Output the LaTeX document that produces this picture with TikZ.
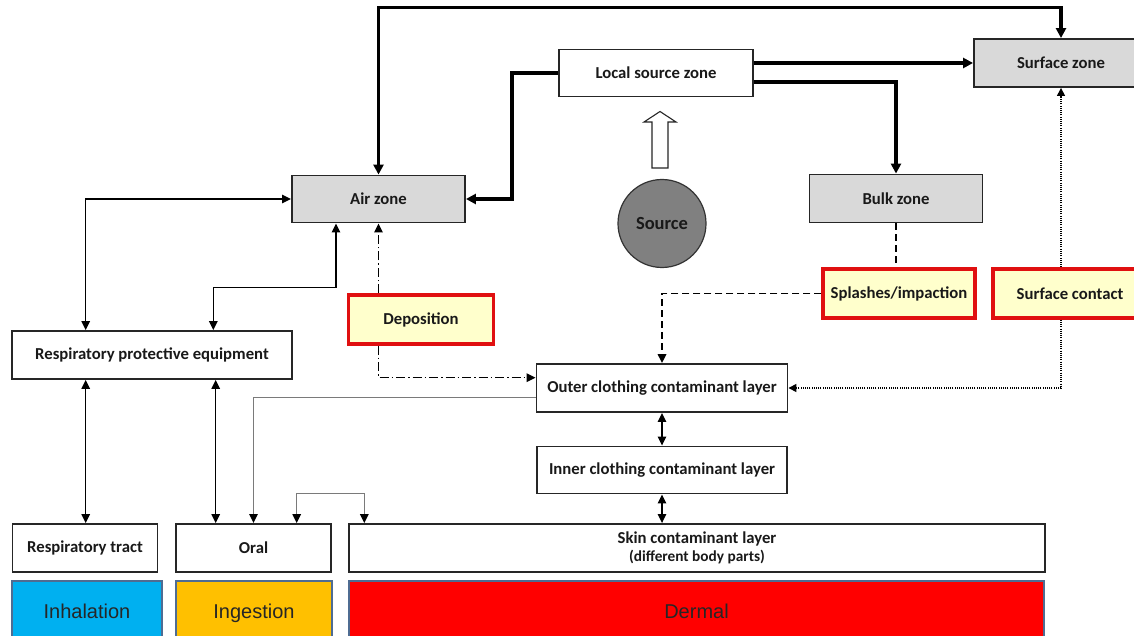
\documentclass[tikz,border=0pt]{standalone}
\usepackage{fontspec}
\setmainfont{Carlito}
\newfontfamily\arialfont{Liberation Sans}
\usetikzlibrary{arrows.meta,calc}
\definecolor{zonegray}{HTML}{D9D9D9}
\definecolor{procyellow}{HTML}{FFFFCC}
\definecolor{procred}{HTML}{E01010}
\definecolor{bandedge}{HTML}{4F6C92}
\definecolor{inhblue}{HTML}{00B0F0}
\definecolor{ingorange}{HTML}{FFC000}
\definecolor{dermred}{HTML}{FF0000}
\definecolor{srcgray}{HTML}{808080}
\definecolor{linkgray}{HTML}{7A7A7A}
\tikzset{
  lbl/.style={font=\bfseries\fontsize{16.7}{19}\selectfont, text=black!90, inner sep=0pt},
  box/.style={lbl, draw=black!85, line width=1.9pt, fill=white, rectangle},
  zone/.style={box, fill=zonegray},
  proc/.style={lbl, draw=procred, line width=3.4pt, fill=procyellow, rectangle},
  band/.style={draw=bandedge, line width=2.6pt, rectangle, inner sep=0pt,
    text height=15pt, text depth=4.5pt,
    font=\arialfont\fontsize{20}{24}\selectfont, text=black!85},
  bigarrow/.style={line width=3.2pt, -{Triangle[length=10pt,width=10pt]}},
  thinboth/.style={line width=1.4pt, {Triangle[length=9pt,width=8.5pt]}-{Triangle[length=9pt,width=8.5pt]}},
  grayto/.style={draw=linkgray, line width=1.4pt, -{Triangle[length=9pt,width=8.5pt,black]}},
  grayboth/.style={draw=linkgray, line width=1.4pt, {Triangle[length=9pt,width=8.5pt,black]}-{Triangle[length=9pt,width=8.5pt,black]}},
  dashto/.style={line width=1.7pt, dash pattern=on 7pt off 4pt, -{Triangle[length=9pt,width=8.5pt]}},
  dashplain/.style={line width=1.7pt, dash pattern=on 7pt off 4pt},
  dotto/.style={line width=1.5pt, dash pattern=on 1pt off 1.2pt, -{Triangle[length=8pt,width=8pt]}},
  dashdotto/.style={line width=1.5pt, dash pattern=on 9pt off 3pt on 1.5pt off 3pt, -{Triangle[length=9pt,width=8.5pt]}},
}
\begin{document}
\begin{tikzpicture}[x=1pt,y=-1pt]
\useasboundingbox (0,0) rectangle (1134,636);
\fill[white] (0,0) rectangle (1134,636);

% nodes
\node[zone, minimum width=173pt, minimum height=47pt] (air) at (378.5,199) {Air zone};
\node[box, minimum width=194pt, minimum height=47pt] (lsz) at (656,73) {Local source zone};
\node[zone, minimum width=166pt, minimum height=48pt] (surf) at (1057,63) {\hspace*{8pt}Surface zone};
\node[zone, minimum width=173pt, minimum height=48pt] (bulk) at (896,198.5) {Bulk zone};
\node[circle, draw=black!80, line width=1.2pt, fill=srcgray, minimum size=88pt, inner sep=0pt,
  font=\bfseries\fontsize{18.5}{21}\selectfont, text=black!90] (src) at (662,223.5) {Source};
\node[proc, minimum width=152pt, minimum height=49pt] (splash) at (899,293.5) {Splashes/impaction};
\node[proc, minimum width=147pt, minimum height=49pt] (contact) at (1066.5,293.5) {\hspace*{7pt}Surface contact};
\node[proc, minimum width=145pt, minimum height=49pt] (depo) at (421,319.5) {Deposition};
\node[box, minimum width=280pt, minimum height=48pt] (rpe) at (152,355) {Respiratory protective equipment};
\node[box, minimum width=251pt, minimum height=48pt] (outer) at (662,388) {Outer clothing contaminant layer};
\node[box, minimum width=250pt, minimum height=47pt] (inner) at (662,470) {Inner clothing contaminant layer};
\node[box, minimum width=145pt, minimum height=48pt] (resp) at (85,548) {Respiratory tract};
\node[box, minimum width=155pt, minimum height=48pt] (oral) at (253.5,548) {Oral};
\node[box, minimum width=696pt, minimum height=48pt, align=center] (skin) at (697,548)
  {Skin contaminant layer\\[-1pt]{\fontsize{15.3}{17}\selectfont (different body parts)}};
\node[band, fill=inhblue, minimum width=150pt, minimum height=64pt] (inh) at (87,613) {Inhalation};
\node[band, fill=ingorange, minimum width=156pt, minimum height=64pt] (ing) at (254,613) {Ingestion};
\node[band, fill=dermred, minimum width=695pt, minimum height=64pt] (derm) at (696.5,613) {Dermal};

% hollow arrow from source
\draw[fill=white, line width=1.1pt, draw=black!85] (652,168) -- (652,122) -- (644,122) -- (660,111.5)
  -- (676,122) -- (668,122) -- (668,168) -- cycle;

% helper coordinates
\coordinate (t1) at (1061,7.5);
\coordinate (cx1) at (85.7,0);
\coordinate (cx2) at (213.3,0);
\coordinate (cx3) at (215.7,0);
\coordinate (k1) at (336,287.3);
\coordinate (k2) at (296.7,493.3);
\coordinate (k3) at (364.3,493.3);
\coordinate (tp) at (378.5,7.5);

% thick connectors
\draw[bigarrow] (tp) -| (t1) -- (t1 |- surf.north);
\draw[bigarrow] (tp) -- (air.north);
\fill (tp) ++(-1.6,-1.6) rectangle ++(3.2,3.2);
\fill (t1) ++(-1.6,-1.6) rectangle ++(3.2,3.2);
\draw[bigarrow] (lsz.west) -| (512,199) -- (air.east);
\draw[bigarrow] (lsz.east |- surf.west) -- (surf.west);
\draw[bigarrow] ([yshift=-9pt]lsz.east) -| (bulk.north);

% dashed / dotted
\draw[dashplain] (bulk.south) -- (bulk.south |- splash.north);
\draw[dashto] (splash.west) -| (outer.north);
\draw[dotto] (t1 |- contact.north) -- (t1 |- surf.south);
\draw[dotto] (t1 |- contact.south) |- (outer.east);
\draw[dashdotto] (air.south |- depo.north) -- (air.south);
\draw[dashdotto] (air.south |- depo.south) |- ([yshift=10.3pt]outer.west);

% thin connectors
\draw[thinboth] (air.west) -| (cx1 |- rpe.north);
\draw[thinboth] (cx2 |- rpe.north) |- (k1) -- (k1 |- air.south);
\draw[thinboth] (cx1 |- rpe.south) -- (cx1 |- resp.north);
\draw[thinboth] (cx3 |- rpe.south) -- (cx3 |- oral.north);
\draw[thinboth] (outer.south) -- (inner.north);
\draw[thinboth] (inner.south) -- (inner.south |- skin.north);
\draw[grayto] ([yshift=-9.7pt]outer.west) -| (oral.north);
\draw[grayboth] (k2 |- oral.north) -- (k2) -- (k3) -- (k3 |- skin.north);
\end{tikzpicture}
\end{document}
